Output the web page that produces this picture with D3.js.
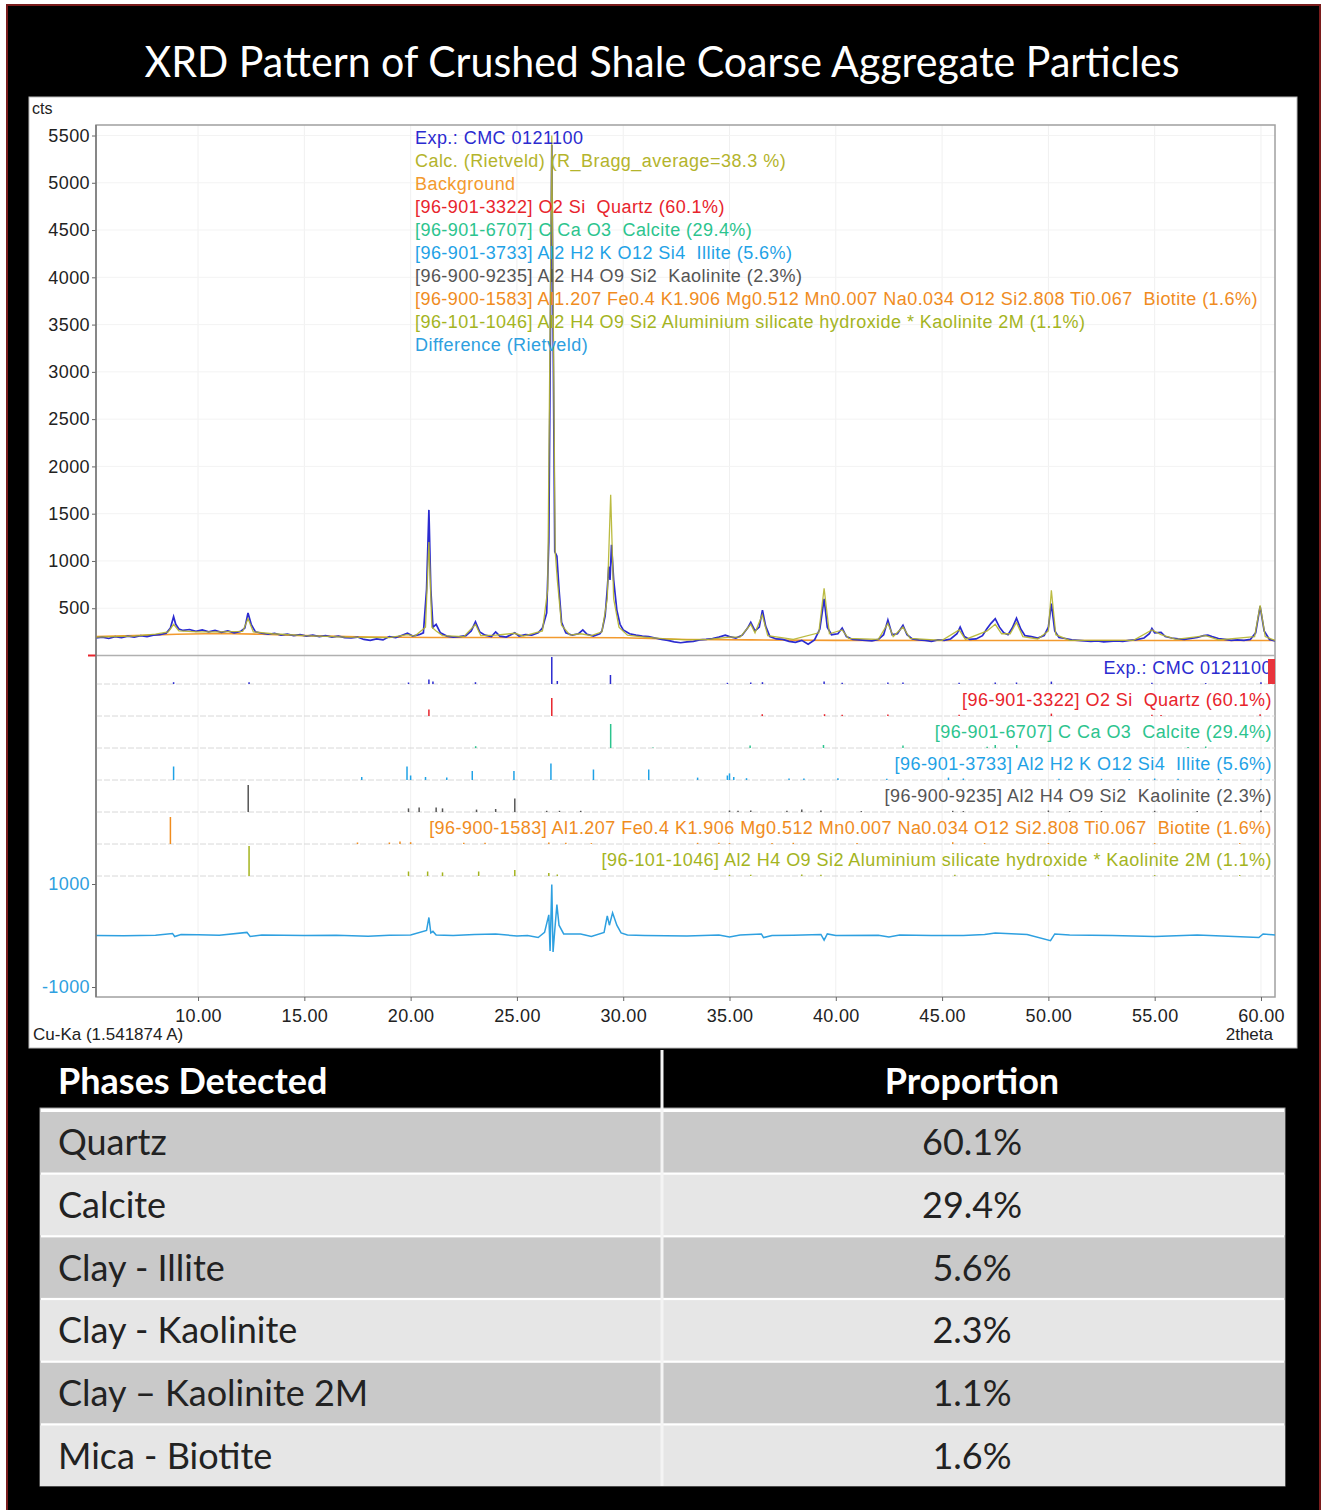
<!DOCTYPE html>
<html>
<head>
<meta charset="utf-8">
<script src="https://cdn.jsdelivr.net/npm/d3@7/dist/d3.min.js"></script>
<style>
  html, body { margin: 0; padding: 0; background: #ffffff; }
  svg { display: block; }
  text { white-space: pre; }
</style>
</head>
<body>
<svg id="chart" width="1322" height="1510"></svg>
<script>
// ---------------- DATA ----------------
const chartTitle = "XRD Pattern of Crushed Shale Coarse Aggregate Particles";
const xTicks = [10, 15, 20, 25, 30, 35, 40, 45, 50, 55, 60];
const yTicks = [500, 1000, 1500, 2000, 2500, 3000, 3500, 4000, 4500, 5000, 5500];
const diffTicks = [-1000, 1000];

// Experimental pattern [2theta, cts]
const expPattern = [
[5.2,185],[5.5,195],[5.8,180],[6.1,200],[6.4,190],[6.7,205],[7.0,195],[7.3,210],[7.6,200],[7.9,215],
[8.2,220],[8.5,235],[8.7,290],[8.85,410],[8.95,330],[9.1,280],[9.3,265],[9.6,275],[9.9,255],[10.2,270],
[10.5,250],[10.8,265],[11.1,245],[11.4,260],[11.7,240],[12.0,255],[12.2,290],[12.35,450],[12.5,330],[12.7,250],
[13.0,235],[13.3,225],[13.6,235],[13.9,215],[14.2,225],[14.5,210],[14.8,220],[15.1,205],[15.4,215],[15.7,200],
[16.0,210],[16.3,195],[16.6,205],[16.9,190],[17.2,185],[17.5,195],[17.8,170],[18.1,160],[18.4,175],[18.7,165],
[19.0,200],[19.3,190],[19.6,215],[19.85,235],[20.1,205],[20.4,220],[20.6,240],[20.75,700],[20.86,1540],[20.95,700],
[21.05,300],[21.2,330],[21.4,240],[21.7,205],[22.0,195],[22.3,200],[22.6,210],[22.85,260],[23.05,355],[23.25,250],
[23.5,215],[23.8,200],[24.0,250],[24.2,205],[24.5,195],[24.9,240],[25.1,205],[25.4,220],[25.7,215],[26.0,240],
[26.2,290],[26.4,450],[26.5,1200],[26.58,3500],[26.64,5400],[26.7,3500],[26.78,1100],[26.88,1050],[26.98,700],[27.1,350],
[27.3,240],[27.6,215],[27.9,230],[28.1,270],[28.3,225],[28.6,205],[28.9,230],[29.0,260],[29.15,420],[29.25,700],
[29.32,940],[29.38,800],[29.45,1170],[29.55,800],[29.7,480],[29.85,330],[30.0,270],[30.3,230],[30.6,215],[30.9,205],
[31.2,200],[31.5,185],[31.8,170],[32.1,160],[32.4,145],[32.7,135],[33.0,145],[33.3,150],[33.6,165],[33.9,170],
[34.2,180],[34.5,195],[34.8,215],[35.0,200],[35.3,185],[35.6,215],[35.85,290],[36.0,350],[36.2,260],[36.4,300],
[36.55,480],[36.7,310],[36.9,200],[37.2,175],[37.5,170],[37.8,150],[38.1,140],[38.4,160],[38.7,120],[39.0,165],
[39.25,280],[39.45,600],[39.6,300],[39.8,220],[40.1,230],[40.3,290],[40.5,200],[40.8,170],[41.1,165],[41.4,160],
[41.7,155],[42.0,170],[42.25,220],[42.45,375],[42.65,220],[42.9,230],[43.16,320],[43.35,220],[43.6,175],[43.9,165],
[44.2,160],[44.5,150],[44.8,165],[45.1,160],[45.4,175],[45.7,230],[45.85,300],[46.05,200],[46.3,170],[46.6,175],
[46.9,210],[47.1,280],[47.3,340],[47.5,390],[47.7,300],[47.9,240],[48.1,220],[48.3,290],[48.5,395],[48.7,280],
[48.9,210],[49.2,200],[49.5,185],[49.8,210],[50.0,300],[50.14,550],[50.3,260],[50.5,190],[50.8,180],[51.1,165],
[51.4,160],[51.7,155],[52.0,150],[52.3,155],[52.6,145],[52.9,150],[53.2,155],[53.5,150],[53.8,160],[54.1,165],
[54.5,185],[54.75,230],[54.87,285],[55.0,240],[55.3,245],[55.5,200],[55.8,185],[56.1,175],[56.4,170],[56.7,180],
[57.0,190],[57.3,210],[57.5,215],[57.7,200],[58.0,180],[58.3,170],[58.6,160],[58.9,165],[59.2,160],[59.5,170],
[59.75,240],[59.96,520],[60.15,260],[60.4,170],[60.66,155]
];

// Calculated (Rietveld) pattern [2theta, cts]
const calcPattern = [
[5.2,195],[6.0,200],[7.0,205],[8.0,225],[8.6,250],[8.85,330],[9.1,260],[10.0,250],[11.0,250],[12.1,255],
[12.35,390],[12.6,250],[13.5,230],[15.0,210],[17.0,195],[19.0,190],[19.85,220],[20.2,205],[20.7,300],[20.86,1200],
[21.0,300],[21.2,260],[21.5,210],[22.5,200],[23.05,330],[23.3,210],[24.0,215],[24.9,235],[25.3,205],[26.2,260],
[26.45,700],[26.64,5500],[26.8,1100],[26.9,800],[27.1,320],[27.5,215],[28.0,230],[28.5,210],[29.0,250],[29.25,600],
[29.41,1700],[29.55,600],[29.8,300],[30.2,215],[31.0,195],[32.0,175],[33.0,165],[34.0,170],[35.0,195],[35.5,195],
[36.0,330],[36.2,240],[36.54,430],[36.8,210],[38.0,170],[39.2,240],[39.45,710],[39.7,230],[40.3,270],[40.6,180],
[42.0,170],[42.45,340],[42.7,200],[43.16,300],[43.5,180],[45.0,160],[45.8,270],[46.1,170],[47.12,260],[47.5,330],
[47.8,230],[48.2,230],[48.5,350],[48.8,200],[49.5,175],[50.0,260],[50.14,690],[50.35,220],[51.0,160],[54.0,160],
[54.87,270],[55.3,220],[56.0,170],[57.4,210],[58.0,165],[59.7,200],[59.96,530],[60.2,200],[60.66,160]
];

// Background [2theta, cts]
const backgroundPattern = [
[5.2,200],[7.0,210],[9.0,225],[11.0,232],[13.0,225],[15.0,210],[18.0,195],[21.0,190],[24.0,190],[27.0,190],
[30.0,188],[33.0,170],[36.0,165],[40.0,160],[45.0,158],[50.0,158],[55.0,158],[60.66,158]
];

// Difference (Rietveld) [2theta, cts]
const differencePattern = [
[5.2,0],[6.5,-5],[8.0,5],[8.8,40],[8.9,-20],[9.2,20],[10.0,15],[11.0,5],[12.3,60],[12.45,-20],
[13.0,10],[15.0,0],[16.5,5],[18.0,-15],[19.0,5],[20.0,10],[20.75,100],[20.86,350],[20.95,50],[21.05,80],
[21.2,10],[22.0,0],[23.0,20],[24.0,30],[25.0,-10],[25.5,0],[26.0,-40],[26.3,60],[26.5,400],[26.56,-300],
[26.64,990],[26.7,-320],[26.78,100],[26.88,600],[26.98,200],[27.2,30],[28.0,30],[28.5,-20],[29.1,60],[29.25,380],
[29.35,200],[29.5,440],[29.7,200],[29.9,50],[30.2,10],[31.0,0],[33.0,-10],[34.5,10],[35.0,-30],[35.5,10],
[36.5,30],[36.6,-40],[37.0,0],[38.0,5],[39.3,20],[39.45,-90],[39.6,30],[40.0,0],[42.0,5],[42.5,-30],
[43.0,10],[44.5,0],[46.0,0],[47.0,20],[47.5,50],[48.0,40],[48.5,30],[49.0,20],[50.1,-100],[50.3,30],
[51.0,10],[53.0,0],[55.0,-20],[57.0,10],[59.9,-40],[60.1,30],[60.66,10]
];

// Legend lines
const legendTexts = [
"Exp.: CMC 0121100",
"Calc. (Rietveld) (R_Bragg_average=38.3 %)",
"Background",
"[96-901-3322] O2 Si  Quartz (60.1%)",
"[96-901-6707] C Ca O3  Calcite (29.4%)",
"[96-901-3733] Al2 H2 K O12 Si4  Illite (5.6%)",
"[96-900-9235] Al2 H4 O9 Si2  Kaolinite (2.3%)",
"[96-900-1583] Al1.207 Fe0.4 K1.906 Mg0.512 Mn0.007 Na0.034 O12 Si2.808 Ti0.067  Biotite (1.6%)",
"[96-101-1046] Al2 H4 O9 Si2 Aluminium silicate hydroxide * Kaolinite 2M (1.1%)",
"Difference (Rietveld)"
];
const legendColors = ["#2b2bd0","#b4b42c","#f39a2e","#e8242c","#2cc48e","#1fa2e6","#555555","#f08c1e","#a4b41e","#2ea0e0"];

// Stick-pattern rows
const rowNames = ["exp","quartz","calcite","illite","kaolinite","biotite","kaolinite2M"];
const rowLabels = [
"Exp.: CMC 0121100",
"[96-901-3322] O2 Si  Quartz (60.1%)",
"[96-901-6707] C Ca O3  Calcite (29.4%)",
"[96-901-3733] Al2 H2 K O12 Si4  Illite (5.6%)",
"[96-900-9235] Al2 H4 O9 Si2  Kaolinite (2.3%)",
"[96-900-1583] Al1.207 Fe0.4 K1.906 Mg0.512 Mn0.007 Na0.034 O12 Si2.808 Ti0.067  Biotite (1.6%)",
"[96-101-1046] Al2 H4 O9 Si2 Aluminium silicate hydroxide * Kaolinite 2M (1.1%)"
];
const rowColors = ["#2b2bd0","#e8242c","#2cc48e","#1fa2e6","#555555","#f08c1e","#a4b41e"];

// sticks: [2theta, relative intensity 0-100]
const expSticks = [[8.85,6],[12.4,6],[19.9,5],[20.86,15],[21.05,8],[23.05,6],[26.64,90],[26.9,10],[29.4,30],[34.9,4],
[36.0,5],[36.55,6],[39.45,8],[40.3,4],[42.45,5],[43.16,5],[45.8,4],[47.5,5],[48.5,5],[50.14,8],[54.87,4],[57.4,3],[60.0,6]];
const quartzSticks = [[20.86,22],[26.64,60],[36.54,6],[39.47,6],[40.3,4],[42.45,5],[45.8,4],[50.14,8],[54.87,4],[55.3,3],[59.96,6]];
const calciteSticks = [[23.06,6],[29.41,80],[31.4,2],[35.97,8],[39.42,10],[43.16,8],[47.12,4],[47.5,10],[48.51,10],[56.57,3],[57.4,5],[60.7,2]];
const illiteSticks = [[8.85,45],[17.7,10],[19.83,45],[20.0,15],[20.7,10],[21.7,8],[22.9,30],[24.86,30],[26.6,55],[28.6,35],
[31.2,35],[33.5,8],[34.9,15],[35.0,22],[35.2,10],[35.8,6],[37.8,5],[38.5,5],[40.1,6],[42.4,4],[45.3,8],[46.0,5],[50.5,4],
[52.5,4],[53.8,3],[55.0,5],[56.1,4],[58.0,4],[60.0,4]];
const kaoliniteSticks = [[12.36,90],[19.9,12],[20.4,15],[21.2,15],[21.5,12],[23.1,8],[24.0,10],[24.9,45],[26.4,4],[27.0,4],
[28.0,4],[35.0,5],[35.4,4],[36.0,5],[37.7,4],[38.4,8],[39.3,5],[41.2,3],[45.5,4],[46.0,3],[50.0,5],[51.0,3],[52.5,3],[55.0,4],[57.0,3],[60.0,5]];
const biotiteSticks = [[8.7,90],[17.5,5],[19.0,5],[19.5,8],[20.0,6],[22.5,4],[23.5,4],[26.5,5],[27.3,4],[28.5,3],[33.5,4],
[34.5,4],[35.0,3],[37.0,3],[38.0,4],[41.0,3],[45.5,6],[47.0,3],[50.0,3],[55.0,3],[59.0,3]];
const kaolinite2MSticks = [[12.4,100],[19.9,15],[20.8,15],[21.5,12],[23.2,15],[24.9,20],[26.5,10],[26.9,5],[35.0,4],[36.0,4],
[38.4,5],[39.3,4],[45.6,4],[50.0,4],[55.0,3],[59.0,3]];
const stickSets = [expSticks, quartzSticks, calciteSticks, illiteSticks, kaoliniteSticks, biotiteSticks, kaolinite2MSticks];

// Table
const tableHeaders = ["Phases Detected", "Proportion"];
const tablePhases = ["Quartz", "Calcite", "Clay - Illite", "Clay - Kaolinite", "Clay \u2013 Kaolinite 2M", "Mica - Biotite"];
const tableProportions = ["60.1%", "29.4%", "5.6%", "2.3%", "1.1%", "1.6%"];

// ---------------- DRAWING ----------------
const svg = d3.select("#chart");
const W = 1322, H = 1510;
const L = 96, R = 1275, T = 125, B = 997;

svg.append("rect").attr("x",0).attr("y",0).attr("width",W).attr("height",H).attr("fill","#ffffff");
svg.append("rect").attr("x",7).attr("y",5).attr("width",1313).attr("height",1510)
  .attr("fill","#000000").attr("stroke","#7a1c1c").attr("stroke-width",2);

svg.append("text").attr("x",662).attr("y",77).attr("text-anchor","middle")
  .attr("fill","#ffffff").attr("font-family","Lato, 'Open Sans', sans-serif").attr("font-size",43)
  .attr("textLength",1035).attr("lengthAdjust","spacingAndGlyphs")
  .text(chartTitle);

// white chart panel
svg.append("rect").attr("x",29).attr("y",97).attr("width",1268).attr("height",951)
  .attr("fill","#ffffff").attr("stroke","#bbbbbb").attr("stroke-width",1);

const x = d3.scaleLinear().domain([5.2, 60.66]).range([L, R]);
const yMain = d3.scaleLinear().domain([0, 5500]).range([655.5, 135.5]);
const yDiff = d3.scaleLinear().domain([-1000, 1000]).range([987, 884]);
const rowY = d3.scalePoint().domain(rowNames).range([684, 876]);
const stickH = d3.scaleLinear().domain([0, 100]).range([0, 30]);

const font = "'Liberation Sans', Arial, sans-serif";

// grid
const grid = svg.append("g");
grid.selectAll("line.v").data(xTicks).join("line")
  .attr("x1", d => x(d)).attr("x2", d => x(d)).attr("y1", T).attr("y2", B)
  .attr("stroke", "#f0f0f0").attr("stroke-width", 1);
grid.selectAll("line.h").data(yTicks).join("line")
  .attr("x1", L).attr("x2", R).attr("y1", d => yMain(d)).attr("y2", d => yMain(d))
  .attr("stroke", "#f3f3f3").attr("stroke-width", 1);

// frame
svg.append("rect").attr("x",L).attr("y",T).attr("width",R-L).attr("height",B-T)
  .attr("fill","none").attr("stroke","#a0a0a0").attr("stroke-width",1.5);

// zero line
svg.append("line").attr("x1",L).attr("x2",R).attr("y1",yMain(0)).attr("y2",yMain(0))
  .attr("stroke","#b0b0b0").attr("stroke-width",1.5);
svg.append("line").attr("x1",88).attr("x2",L).attr("y1",yMain(0)).attr("y2",yMain(0))
  .attr("stroke","#e8242c").attr("stroke-width",2);

// row baselines
svg.append("g").selectAll("line").data(rowNames).join("line")
  .attr("x1",L).attr("x2",R).attr("y1",d => rowY(d)).attr("y2",d => rowY(d))
  .attr("stroke","#d8d8d8").attr("stroke-width",1).attr("stroke-dasharray","6,2");

// clip
svg.append("clipPath").attr("id","plotclip").append("rect")
  .attr("x",L).attr("y",T).attr("width",R-L).attr("height",B-T);

const lineMain = d3.line().x(d => x(d[0])).y(d => yMain(d[1]));
const lineDiff = d3.line().x(d => x(d[0])).y(d => yDiff(d[1]));
const plot = svg.append("g").attr("clip-path","url(#plotclip)");

plot.append("path").datum(backgroundPattern).attr("d",lineMain)
  .attr("fill","none").attr("stroke","#f39a2e").attr("stroke-width",1.6);
plot.append("path").datum(expPattern).attr("d",lineMain)
  .attr("fill","none").attr("stroke","#2b2bd0").attr("stroke-width",1.7);
plot.append("path").datum(calcPattern).attr("d",lineMain)
  .attr("fill","none").attr("stroke","#b4b42c").attr("stroke-width",1.3).attr("stroke-opacity",0.9);
plot.append("path").datum(differencePattern).attr("d",lineDiff)
  .attr("fill","none").attr("stroke","#2ea0e0").attr("stroke-width",1.5);

// sticks
rowNames.forEach((name, i) => {
  plot.append("g").selectAll("line").data(stickSets[i]).join("line")
    .attr("x1", d => x(d[0])).attr("x2", d => x(d[0]))
    .attr("y1", rowY(name)).attr("y2", d => rowY(name) - stickH(d[1]))
    .attr("stroke", rowColors[i]).attr("stroke-width", 1.5);
});

// row labels
svg.append("g").selectAll("text").data(rowNames).join("text")
  .attr("x", 1272).attr("y", d => rowY(d) - 10).attr("text-anchor","end")
  .attr("font-family", font).attr("font-size", 18).attr("letter-spacing", 0.45)
  .attr("fill", (d,i) => rowColors[i])
  .text((d,i) => rowLabels[i]);
svg.append("rect").attr("x",1268).attr("y",659).attr("width",7).attr("height",25).attr("fill","#e8343c");

// legend
svg.append("g").selectAll("text").data(legendTexts).join("text")
  .attr("x", 415).attr("y", (d,i) => 144 + i*23)
  .attr("font-family", font).attr("font-size", 18).attr("letter-spacing", 0.45)
  .attr("fill", (d,i) => legendColors[i]).text(d => d);

// axes
const intFmt = d => String(d);
const yAxis = d3.axisLeft(yMain).tickValues(yTicks).tickSize(4).tickFormat(intFmt);
const gy = svg.append("g").attr("transform",`translate(${L},0)`).call(yAxis);
gy.select(".domain").remove();
gy.selectAll("line").attr("stroke","#666");
gy.selectAll("text").attr("font-family",font).attr("font-size",18).attr("letter-spacing",0.4).attr("fill","#222").attr("x",-6);

const dAxis = d3.axisLeft(yDiff).tickValues(diffTicks).tickSize(4).tickFormat(intFmt);
const gd = svg.append("g").attr("transform",`translate(${L},0)`).call(dAxis);
gd.select(".domain").remove();
gd.selectAll("line").attr("stroke","#666");
gd.selectAll("text").attr("font-family",font).attr("font-size",18).attr("letter-spacing",0.4).attr("fill","#2ea0e0").attr("x",-6);

const xAxis = d3.axisBottom(x).tickValues(xTicks).tickSize(4).tickFormat(d3.format(".2f"));
const gx = svg.append("g").attr("transform",`translate(0,${B})`).call(xAxis);
gx.select(".domain").remove();
gx.selectAll("line").attr("stroke","#666");
gx.selectAll("text").attr("font-family",font).attr("font-size",18).attr("letter-spacing",0.3).attr("fill","#222").attr("dy","1.0em");

svg.append("line").attr("x1",L).attr("x2",L).attr("y1",T).attr("y2",B).attr("stroke","#777").attr("stroke-width",1.5);

svg.append("text").attr("x",32).attr("y",114).attr("font-family",font).attr("font-size",16).attr("fill","#222").text("cts");
svg.append("text").attr("x",33).attr("y",1040).attr("font-family",font).attr("font-size",17).attr("fill","#222").text("Cu-Ka (1.541874 A)");
svg.append("text").attr("x",1273).attr("y",1040).attr("text-anchor","end").attr("font-family",font).attr("font-size",17).attr("fill","#222").text("2theta");

// ---------------- TABLE ----------------
const tX0 = 40, tX1 = 1285, colDiv = 662;
const tFont = "Lato, 'Open Sans', sans-serif";
const rowBand = d3.scaleBand().domain(d3.range(tablePhases.length)).range([1112, 1486]).paddingInner(0.035);

svg.append("rect").attr("x",tX0).attr("y",1050).attr("width",tX1-tX0).attr("height",58).attr("fill","#000");
svg.append("rect").attr("x",tX0).attr("y",1108).attr("width",tX1-tX0).attr("height",378).attr("fill","#ffffff")
  .attr("stroke","#999").attr("stroke-width",1);

svg.append("g").selectAll("rect").data(tablePhases).join("rect")
  .attr("x",tX0).attr("y",(d,i) => rowBand(i)).attr("width",tX1-tX0).attr("height",rowBand.bandwidth())
  .attr("fill",(d,i) => i % 2 === 0 ? "#c9c9c9" : "#e6e6e6");

svg.append("line").attr("x1",colDiv).attr("x2",colDiv).attr("y1",1050).attr("y2",1486)
  .attr("stroke","#f4f4f4").attr("stroke-width",3);

svg.append("text").attr("x",58).attr("y",1094).attr("fill","#fff").attr("font-family",tFont)
  .attr("font-weight","bold").attr("font-size",36).text(tableHeaders[0]);
svg.append("text").attr("x",972).attr("y",1094).attr("text-anchor","middle").attr("fill","#fff").attr("font-family",tFont)
  .attr("font-weight","bold").attr("font-size",36).text(tableHeaders[1]);

svg.append("g").selectAll("text").data(tablePhases).join("text")
  .attr("x",58).attr("y",(d,i) => rowBand(i) + rowBand.bandwidth()/2 + 13)
  .attr("fill","#222").attr("font-family",tFont).attr("font-size",36).text(d => d);
svg.append("g").selectAll("text").data(tableProportions).join("text")
  .attr("x",972).attr("y",(d,i) => rowBand(i) + rowBand.bandwidth()/2 + 13).attr("text-anchor","middle")
  .attr("fill","#222").attr("font-family",tFont).attr("font-size",36).text(d => d);
</script>
</body>
</html>
